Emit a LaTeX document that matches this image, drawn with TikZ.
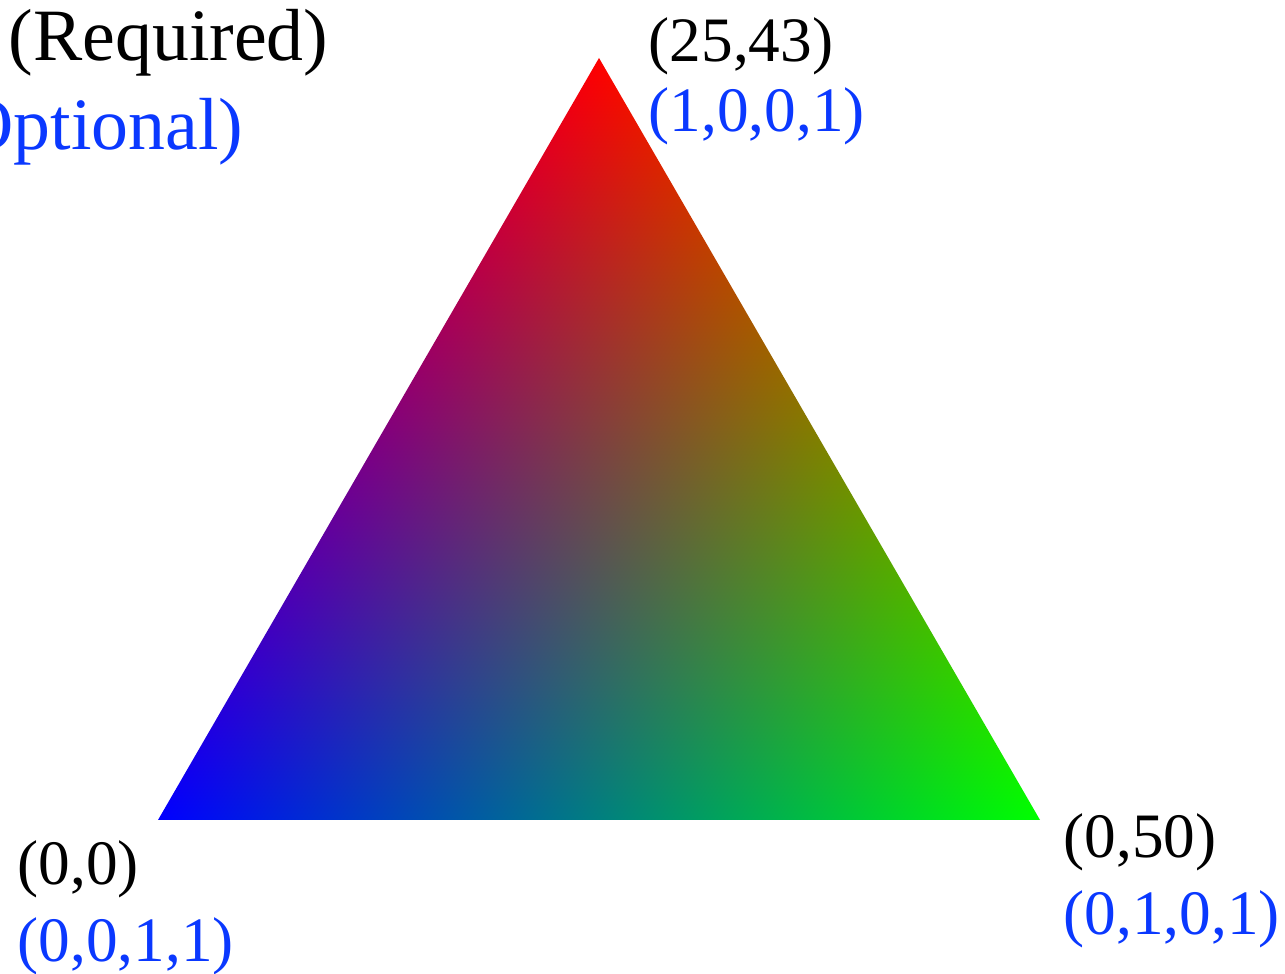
\documentclass[tikz,border=0pt]{standalone}
\usepackage{fontspec}
\setmainfont{Liberation Serif}
\usepackage{xcolor}
\usepackage{tikz}
\usetikzlibrary{positioning}

\definecolor{optblue}{RGB}{10,56,255}

% barycentric RGB over the triangle (central 50bp square = path box)
\pgfdeclarefunctionalshading{cornermix}{\pgfpointorigin}{\pgfpoint{100bp}{100bp}}{}{
  25 sub 50 div exch 25 sub 50 div exch
  exch 1 index 2 div 2 copy sub 3 1 roll add 1 exch sub
}

\begin{document}
\begin{tikzpicture}[
  req/.style={inner sep=0pt, anchor=base west, font=\fontsize{18}{21}\selectfont},
  opt/.style={req, text=optblue},
  key/.style={font=\fontsize{21}{25}\selectfont}
]
\useasboundingbox (0,0) rectangle (12.85,9.74);

% Corners
\coordinate (blue) at (1.58,1.54);
\coordinate (green) at (10.40,1.54);
\coordinate (red) at (5.99,9.16);

\shade[shading=cornermix] (blue) -- (green) -- (red) -- cycle;

% Legend
\node[req, key] (reqkey) at (0.08,9.13) {(Required)};
\node[opt, key, anchor=base east] (optkey) at (2.44,8.24) {(Optional)};

% Corner labels
\node[req] (redpos) at (6.48,9.12) {(25,43)};
\node[opt] (redcol) at ([yshift=-0.70cm]redpos.base west) {(1,0,0,1)};
\node[req] (bluepos) at (0.17,0.89) {(0,0)};
\node[opt] (bluecol) at ([yshift=-0.77cm]bluepos.base west) {(0,0,1,1)};
\node[req] (greenpos) at (10.63,1.16) {(0,50)};
\node[opt] (greencol) at ([yshift=-0.77cm]greenpos.base west) {(0,1,0,1)};

\end{tikzpicture}
\end{document}
